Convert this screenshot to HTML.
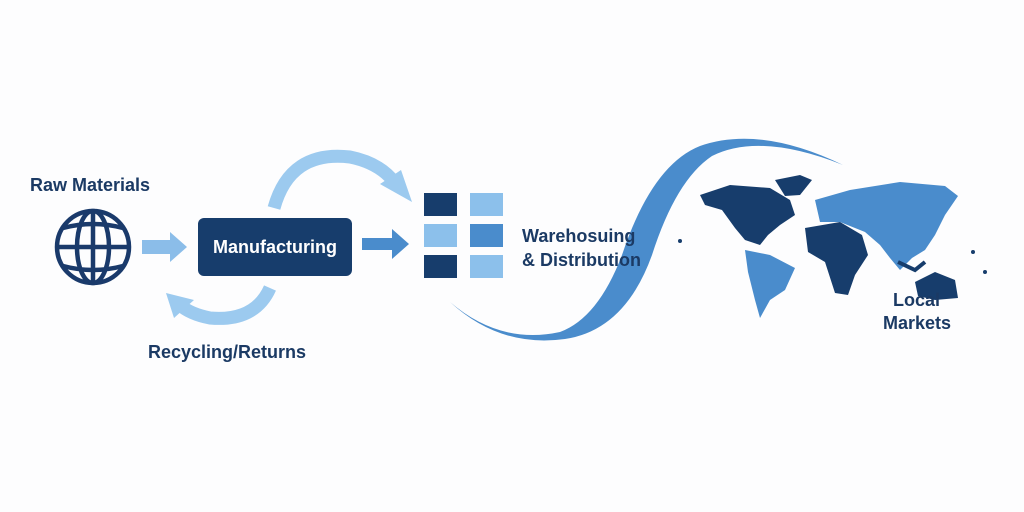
<!DOCTYPE html>
<html><head><meta charset="utf-8"><style>
html,body{margin:0;padding:0;background:#fff;}
svg{display:block}
text{font-family:"Liberation Sans",sans-serif;font-weight:bold;fill:#1b3a64}
</style></head><body>
<svg width="1024" height="512" viewBox="0 0 1024 512">
<rect width="1024" height="512" fill="#fdfdfe"/>
<text x="30" y="191" font-size="18">Raw Materials</text>
<!-- globe -->
<g fill="none" stroke="#1a3a6b" stroke-width="4.5">
<circle cx="93" cy="247" r="36"/>
<ellipse cx="93" cy="247" rx="16" ry="36"/>
<line x1="93" y1="211" x2="93" y2="283"/>
<line x1="57" y1="247" x2="129" y2="247"/>
<path d="M63 228 Q93 220 123 228"/>
<path d="M63 266 Q93 274 123 266"/>
</g>
<!-- arrow1 -->
<path d="M142 240 H170 V232 L187 247 L170 262 V254 H142 Z" fill="#8bbde9"/>
<!-- manufacturing -->
<rect x="198" y="218" width="154" height="58" rx="6" fill="#173d6c"/>
<text x="275" y="253" font-size="18" text-anchor="middle" style="fill:#fff">Manufacturing</text>
<!-- arrow2 -->
<path d="M362 238 H392 V229 L409 244 L392 259 V250 H362 Z" fill="#4a8ccc"/>
<!-- top arc -->
<path d="M274 208 Q290 150 350 157 Q380 163 395 183" fill="none" stroke="#9ccaef" stroke-width="13"/>
<path d="M380 184 L412 202 L401 170 Z" fill="#9ccaef"/>
<!-- bottom arc -->
<path d="M270 288 Q255 322 210 318 Q190 314 180 305" fill="none" stroke="#9ccaef" stroke-width="13"/>
<path d="M166 293 L194 300 L174 318 Z" fill="#9ccaef"/>
<text x="148" y="358" font-size="18">Recycling/Returns</text>
<!-- grid -->
<rect x="424" y="193" width="33" height="23" fill="#173d6c"/>
<rect x="470" y="193" width="33" height="23" fill="#8cc0eb"/>
<rect x="424" y="224" width="33" height="23" fill="#8cc0eb"/>
<rect x="470" y="224" width="33" height="23" fill="#4a8ccc"/>
<rect x="424" y="255" width="33" height="23" fill="#173d6c"/>
<rect x="470" y="255" width="33" height="23" fill="#8cc0eb"/>
<!-- swoosh -->
<path d="M450 302 Q500 345 560 332 Q598 318 622 255 Q652 165 700 146 Q760 125 843 165 Q760 132 712 156 Q676 180 652 255 Q625 330 565 339 Q500 348 450 302 Z" fill="#4a8ccc"/>
<text x="522" y="242" font-size="18">Warehosuing</text>
<text x="522" y="266" font-size="18">&amp; Distribution</text>
<!-- map -->
<path d="M700 195 L730 185 L770 188 L790 200 L795 215 L780 225 L768 235 L760 245 L745 240 L735 228 L722 210 L705 205 Z" fill="#173d6c"/>
<path d="M775 180 L800 175 L812 180 L800 195 L785 196 Z" fill="#173d6c"/>
<path d="M745 250 L770 255 L795 268 L785 290 L770 300 L760 318 L755 300 L748 272 Z" fill="#4a8ccc"/>
<path d="M815 200 L850 190 L900 182 L945 186 L958 196 L945 215 L935 235 L925 250 L912 258 L900 270 L890 258 L880 245 L865 232 L840 222 L820 222 Z" fill="#4a8ccc"/>
<path d="M805 228 L840 222 L862 235 L868 255 L855 275 L848 295 L835 293 L825 262 L808 252 Z" fill="#173d6c"/>
<path d="M915 282 L935 272 L955 280 L958 298 L935 300 L918 296 Z" fill="#173d6c"/>
<path d="M898 262 L915 270 L925 262" fill="none" stroke="#173d6c" stroke-width="4"/>
<circle cx="680" cy="241" r="2" fill="#173d6c"/>
<circle cx="973" cy="252" r="2" fill="#173d6c"/>
<circle cx="985" cy="272" r="2" fill="#173d6c"/>
<text x="893" y="306" font-size="18">Local</text>
<text x="883" y="329" font-size="18">Markets</text>
</svg>
</body></html>
